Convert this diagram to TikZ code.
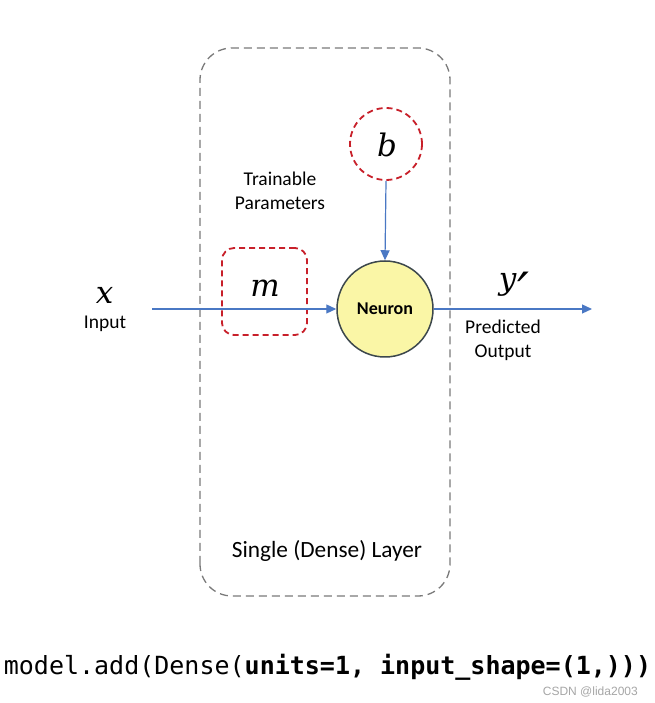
\documentclass[tikz,border=0pt]{standalone}
\usepackage{fontspec}
\setmainfont{Carlito}
\newfontfamily\codefont{DejaVu Sans Mono}
\newfontfamily\wmfont{Liberation Sans}
\newfontfamily\varfont{DejaVu Serif}
\usetikzlibrary{arrows.meta}
\definecolor{arrowblue}{HTML}{4A78C4}
\definecolor{pred}{HTML}{C8202A}
\definecolor{boxgray}{HTML}{7A7A7A}
\definecolor{neuronfill}{HTML}{FAF6A6}
\definecolor{neuronline}{HTML}{3C474C}
\tikzset{
  flow/.style={draw=arrowblue, line width=1.2pt, -{Triangle[length=10pt,width=9pt]}},
  param/.style={draw=pred, line width=1.8pt, dash pattern=on 6pt off 4pt},
  layerbox/.style={draw=boxgray, line width=1.3pt, dash pattern=on 8pt off 5pt, rounded corners=32pt},
  lbl/.style={font=\fontsize{19.5}{24}\selectfont, align=center, inner sep=0pt},
  mathlbl/.style={font=\fontsize{31}{33}\varfont\itshape, inner sep=0pt}
}
\begin{document}
\begin{tikzpicture}[x=1pt,y=1pt]
\useasboundingbox (0,0) rectangle (654,703);
\fill[white] (0,0) rectangle (654,703);
% layer box
\draw[layerbox] (200,107) rectangle (450,655);
% nodes
\node[param, circle, minimum size=72pt, inner sep=0pt] (b) at (386,559) {};
\node[mathlbl] (bl) at (387,558.5) {b};
\node[param, rectangle, rounded corners=12pt, minimum width=85pt, minimum height=87pt] (m) at (264.5,411.5) {};
\node[mathlbl] (ml) at (265,415) {m};
\node[circle, draw=neuronline, line width=1.5pt, fill=neuronfill, minimum size=96pt, inner sep=0pt, font=\fontsize{18}{21}\selectfont\bfseries] (neuron) at (385,394) {Neuron};
% labels
\node[mathlbl] (xl) at (104.5,408) {x};
\node[lbl] (inl) at (105,379) {Input};
\node[mathlbl, anchor=base] (yl) at (514,413) {y\kern1pt\raisebox{-21pt}{\scalebox{1.7}{′}}};
\node[lbl] (outl) at (503,363) {Predicted\\Output};
\node[lbl] (train) at (280,512) {Trainable\\Parameters};
\node[lbl, font=\fontsize{23.3}{26}\selectfont] (layer) at (327,152) {Single (Dense) Layer};
\coordinate (in) at (152,394);
\coordinate (out) at (592,394);
% connectors
\draw[flow] (in) -- (neuron.west);
\draw[flow] (b.south) -- (neuron.north);
\draw[flow] (neuron.east) -- (out);
% code
\node[inner sep=0pt, anchor=base] (code) at (327.5,28) {\fontsize{25}{27}\codefont model.add(Dense(\textbf{units=1, input\_shape=(1,)))}};
\node[inner sep=0pt, anchor=base east, text=gray!70, font=\fontsize{12}{14}\wmfont] (wm) at (638,8) {CSDN @lida2003};
\end{tikzpicture}
\end{document}
